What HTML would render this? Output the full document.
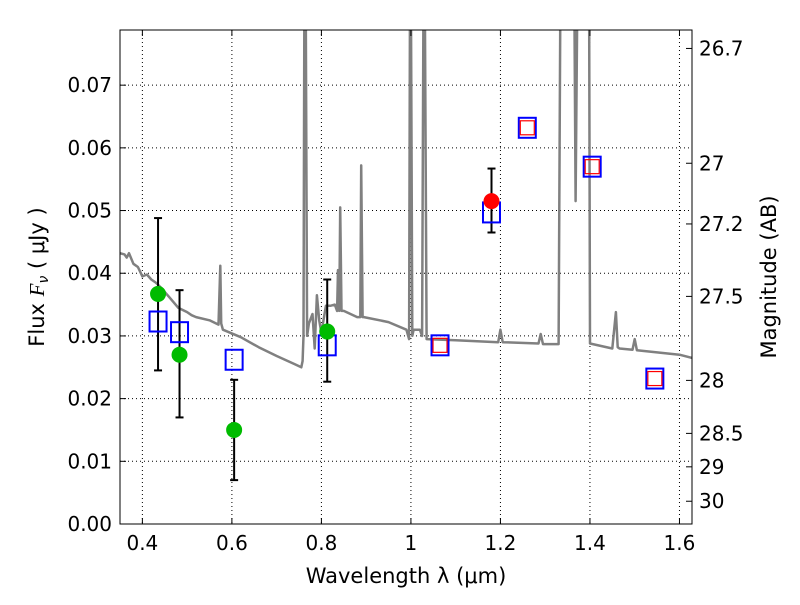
<!DOCTYPE html>
<html><head><meta charset="utf-8"><style>
body{margin:0;background:#fff;width:800px;height:600px;overflow:hidden}
svg text{font-family:"DejaVu Sans","Liberation Sans",sans-serif;fill:#000}
</style></head><body>
<svg id="chart" width="800" height="600" xmlns="http://www.w3.org/2000/svg">
<defs><clipPath id="clip"><rect x="120" y="30" width="572" height="494"/></clipPath></defs>
<g id="grid"></g>
<g id="spec" clip-path="url(#clip)"></g>
<g id="marks"></g>
<rect x="120" y="30" width="572" height="494" fill="none" stroke="#000" stroke-width="1"/>
<g id="axes"></g>
<text x="406" y="583" font-size="21" text-anchor="middle">Wavelength  λ (μm)</text>
<text transform="translate(44,277) rotate(-90)" font-size="21" text-anchor="middle">Flux  <tspan font-style="italic" font-family="Liberation Serif">F</tspan><tspan font-style="italic" font-size="14" dy="4">ν</tspan><tspan dy="-4">  ( μJy )</tspan></text>
<text transform="translate(776,277) rotate(-90)" font-size="21" text-anchor="middle">Magnitude (AB)</text>
</svg>
<script>
const xTicks=[0.4,0.6,0.8,1.0,1.2,1.4,1.6];
const xTickLabels=["0.4","0.6","0.8","1","1.2","1.4","1.6"];
const yTicks=[0,0.01,0.02,0.03,0.04,0.05,0.06,0.07];
const yTickLabels=["0.00","0.01","0.02","0.03","0.04","0.05","0.06","0.07"];
const magTicks=[26.7,27,27.2,27.5,28,28.5,29,30];
const magTickLabels=["26.7","27","27.2","27.5","28","28.5","29","30"];
const specWave=[0.35,0.36,0.365,0.37,0.38,0.39,0.40,0.41,0.42,0.43,0.44,0.46,0.48,0.50,0.51,0.52,0.55,0.57,0.574,0.576,0.58,0.62,0.66,0.70,0.74,0.755,0.758,0.760,0.762,0.765,0.768,0.772,0.78,0.785,0.79,0.795,0.80,0.81,0.82,0.83,0.835,0.837,0.84,0.842,0.845,0.85,0.88,0.887,0.889,0.892,0.895,0.95,0.99,0.996,0.998,1.0,1.003,1.006,1.02,1.025,1.028,1.031,1.035,1.1,1.195,1.2,1.205,1.285,1.29,1.295,1.33,1.334,1.336,1.36,1.365,1.368,1.372,1.375,1.395,1.398,1.40,1.45,1.458,1.462,1.466,1.495,1.5,1.505,1.6,1.628];
const specFlux=[0.0432,0.043,0.0425,0.0432,0.0415,0.041,0.0395,0.0398,0.039,0.0385,0.0378,0.0362,0.0345,0.0338,0.0333,0.033,0.0325,0.0318,0.0412,0.032,0.031,0.0298,0.0282,0.0268,0.0255,0.025,0.026,0.03,0.085,0.085,0.03,0.032,0.0335,0.028,0.0365,0.0325,0.0305,0.0348,0.0348,0.035,0.034,0.0405,0.034,0.0505,0.034,0.034,0.033,0.033,0.0572,0.033,0.033,0.0322,0.031,0.0295,0.085,0.085,0.03,0.031,0.031,0.03,0.085,0.085,0.0295,0.0293,0.029,0.031,0.029,0.0288,0.0303,0.0287,0.0287,0.085,0.085,0.085,0.085,0.0515,0.085,0.085,0.085,0.085,0.0288,0.028,0.0338,0.0282,0.028,0.0278,0.0295,0.0277,0.027,0.0265];
const photWave=[0.435,0.483,0.605,0.813];
const photFlux=[0.0367,0.027,0.015,0.0307];
const photLo=[0.0245,0.017,0.007,0.0227];
const photHi=[0.0488,0.0373,0.023,0.039];
const redWave=[1.18];const redFlux=[0.0515];const redLo=[0.0465];const redHi=[0.0567];
const modelWave=[0.435,0.483,0.605,0.813,1.065,1.18,1.26,1.405,1.545];
const modelFlux=[0.0323,0.0306,0.0262,0.0285,0.0285,0.0497,0.0632,0.057,0.0232];
const innerWave=[1.065,1.26,1.405,1.545];
const innerFlux=[0.0285,0.0632,0.057,0.0232];

const X0=120,X1=692,Y0=524,Y1=30,xmin=0.35,xmax=1.628,ymin=0,ymax=0.0788;
const sx=v=>X0+(v-xmin)/(xmax-xmin)*(X1-X0);
const sy=v=>Y0-(v-ymin)/(ymax-ymin)*(Y0-Y1);
const NS="http://www.w3.org/2000/svg";
function mk(p,t,a){const e=document.createElementNS(NS,t);for(const k in a)e.setAttribute(k,a[k]);p.appendChild(e);return e;}
const grid=document.getElementById('grid'),axes=document.getElementById('axes'),spec=document.getElementById('spec'),marks=document.getElementById('marks');
xTicks.forEach((t,i)=>{const x=sx(t);
 const g=mk(grid,'line',{x1:x,x2:x,y1:Y1,y2:Y0,stroke:'#000','stroke-dasharray':'1,3','stroke-width':1});
 
 mk(axes,'line',{x1:x,x2:x,y1:Y0,y2:Y0-6,stroke:'#000'});mk(axes,'line',{x1:x,x2:x,y1:Y1,y2:Y1+6,stroke:'#000'});
 const tx=mk(axes,'text',{x:x,y:Y0+26,'font-size':20,'text-anchor':'middle'});tx.textContent=xTickLabels[i];
 });
yTicks.forEach((t,i)=>{const y=sy(t);
 if(t>0){const g=mk(grid,'line',{x1:X0,x2:X1,y1:y,y2:y,stroke:'#000','stroke-dasharray':'1,3','stroke-width':1});
 }
 mk(axes,'line',{x1:X0,x2:X0+6,y1:y,y2:y,stroke:'#000'});
 const tx=mk(axes,'text',{x:X0-8,y:y+7,'font-size':20,'text-anchor':'end'});tx.textContent=yTickLabels[i];
 });
magTicks.forEach((m,i)=>{const y=sy(Math.pow(10,(23.9-m)/2.5));
 mk(axes,'line',{x1:X1,x2:X1-6,y1:y,y2:y,stroke:'#000'});
 const tx=mk(axes,'text',{x:X1+7,y:y+7,'font-size':20});tx.textContent=magTickLabels[i];
 });
const pts=specWave.map((w,i)=>sx(w).toFixed(1)+','+sy(specFlux[i]).toFixed(1)).join(' ');
const pl=mk(spec,'polyline',{points:pts,fill:'none',stroke:'#808080','stroke-width':2.5,'stroke-linejoin':'round'});

function err(w,lo,hi){const x=sx(w);mk(marks,'line',{x1:x,x2:x,y1:sy(lo),y2:sy(hi),stroke:'#000','stroke-width':2});
 [lo,hi].forEach(v=>mk(marks,'line',{x1:x-4,x2:x+4,y1:sy(v),y2:sy(v),stroke:'#000','stroke-width':2}));}
photWave.forEach((w,i)=>err(w,photLo[i],photHi[i]));
redWave.forEach((w,i)=>err(w,redLo[i],redHi[i]));
modelWave.forEach((w,i)=>{const r=mk(marks,'rect',{x:sx(w)-8.5,y:sy(modelFlux[i])-10,width:17,height:20,fill:'none',stroke:'#0000ff','stroke-width':2});
 });
innerWave.forEach((w,i)=>{const r=mk(marks,'rect',{x:sx(w)-7,y:sy(innerFlux[i])-7,width:14,height:14,fill:'none',stroke:'#ff0000','stroke-width':1.2});
 });
photWave.forEach((w,i)=>{const c=mk(marks,'circle',{cx:sx(w),cy:sy(photFlux[i]),r:8,fill:'#00bb00'});
 });
redWave.forEach((w,i)=>{const c=mk(marks,'circle',{cx:sx(w),cy:sy(redFlux[i]),r:8,fill:'#ff0000'});
 });
</script>
</body></html>
